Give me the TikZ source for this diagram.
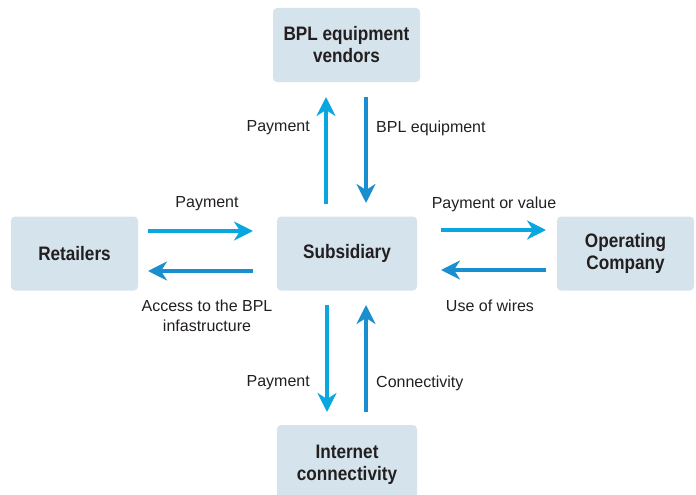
\documentclass[tikz,border=0pt]{standalone}
\usepackage{fontspec}
\setmainfont{Liberation Sans}
\newfontfamily\boxfont{Liberation Sans}[FakeStretch=0.88]
\usetikzlibrary{arrows.meta}
\definecolor{boxblue}{HTML}{D4E3EC}
\definecolor{arrlight}{HTML}{0AA6DF}
\definecolor{arrdark}{HTML}{1A8FD0}
\definecolor{inkgray}{HTML}{231F20}
\tikzset{>={Stealth[length=19pt,width=19pt,inset=6pt]}}
\tikzset{
    party/.style={fill=boxblue, rounded corners=4pt, minimum height=74pt, align=center,
        text=inkgray, font=\boxfont\bfseries\fontsize{19.5}{22}\selectfont},
    flow/.style={->, line width=3.5pt},
    lbl/.style={text=inkgray, align=center, inner sep=0pt, font=\fontsize{16}{20}\selectfont}
}

\begin{document}
\begin{tikzpicture}[x=1pt, y=-1pt, line join=round]
    \useasboundingbox (0,0) rectangle (696,495);
    \clip (0,0) rectangle (696,495);

    \node[party, minimum width=147pt] (vend) at (346.5,45) {BPL equipment\\vendors};
    \node[party, minimum width=127pt] (ret) at (74.5,253.5) {Retailers};
    \node[party, minimum width=140pt] (sub) at (347,253.5) {Subsidiary};
    \node[party, minimum width=137pt] (op) at (625.5,253.5) {Operating\\Company};
    \node[party, minimum width=140pt, minimum height=80pt] (inet) at (347,465) {Internet\\connectivity};

    % subsidiary <-> vendors
    \coordinate (vu1) at (326,204); \coordinate (vu2) at (326,97);
    \coordinate (vd1) at (366,97);  \coordinate (vd2) at (366,203);
    \draw[flow, arrlight] (vu1) -- (vu2);
    \draw[flow, arrdark] (vd1) -- (vd2);
    \node[lbl, anchor=east] (lpay1) at (310,128) {Payment};
    \node[lbl, anchor=west] (lequip) at (376,128) {BPL equipment};

    % retailers <-> subsidiary
    \coordinate (rr1) at (148,231); \coordinate (rr2) at (253,231);
    \coordinate (rl1) at (253,271); \coordinate (rl2) at (148,271);
    \draw[flow, arrlight] (rr1) -- (rr2);
    \draw[flow, arrdark] (rl1) -- (rl2);
    \node[lbl] (lpay2) at (207,204) {Payment};
    \node[lbl] (lacc) at (207,316) {Access to the BPL\\infastructure};

    % subsidiary <-> operating company
    \coordinate (or1) at (441,230); \coordinate (or2) at (546,230);
    \coordinate (ol1) at (546,270); \coordinate (ol2) at (441,270);
    \draw[flow, arrlight] (or1) -- (or2);
    \draw[flow, arrdark] (ol1) -- (ol2);
    \node[lbl] (lval) at (494,204) {Payment or value};
    \node[lbl] (lwire) at (490,306) {Use of wires};

    % subsidiary <-> internet
    \coordinate (id1) at (327,305); \coordinate (id2) at (327,412);
    \coordinate (iu1) at (366,412); \coordinate (iu2) at (366,305);
    \draw[flow, arrlight] (id1) -- (id2);
    \draw[flow, arrdark] (iu1) -- (iu2);
    \node[lbl, anchor=east] (lpay3) at (310,383) {Payment};
    \node[lbl, anchor=west] (lconn) at (376,383) {Connectivity};
\end{tikzpicture}
\end{document}
